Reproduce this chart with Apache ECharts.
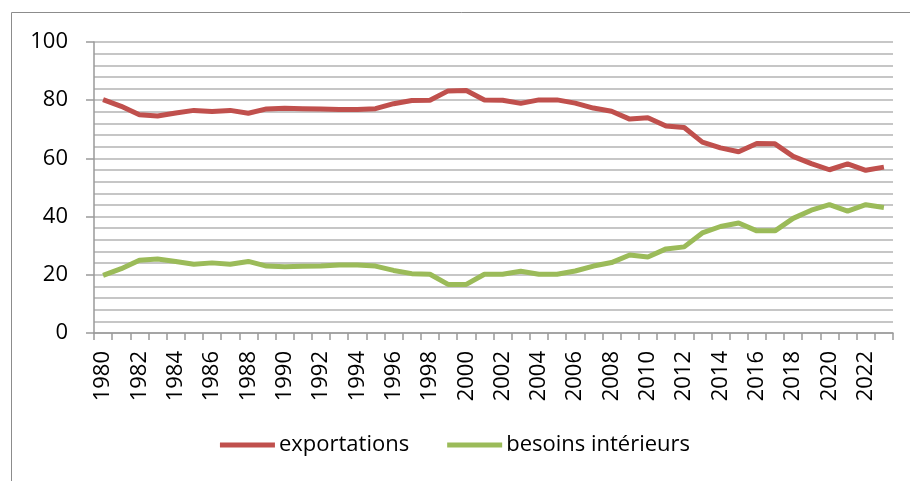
<!DOCTYPE html>
<html>
<head>
<meta charset="utf-8">
<style>
  html, body { margin: 0; padding: 0; background: #fff; }
  #main { width: 910px; height: 481px; }
</style>
</head>
<body>
<div id="main"></div>
<script src="https://cdn.jsdelivr.net/npm/echarts@6/dist/echarts.min.js"></script>
<script>
  var chartDom = document.getElementById('main');
  var myChart = echarts.init(chartDom);
  var option;

  const years = [];
  for (let y = 1980; y <= 2023; y++) years.push(String(y));

  const exportations = [
    80.2, 77.9, 75.0, 74.6, 75.6, 76.5, 76.1, 76.5, 75.5, 77.0,
    77.2, 77.1, 77.0, 76.8, 76.8, 77.1, 78.8, 79.9, 80.0, 83.2,
    83.3, 80.1, 80.0, 78.9, 80.1, 80.1, 79.0, 77.3, 76.2, 73.5,
    74.0, 71.1, 70.6, 65.6, 63.6, 62.3, 65.1, 65.0, 60.7, 58.2,
    56.1, 58.1, 55.9, 57.0
  ];
  const besoins = [
    19.8, 22.1, 25.0, 25.4, 24.6, 23.6, 24.1, 23.6, 24.6, 23.0,
    22.8, 22.9, 23.0, 23.4, 23.4, 23.0, 21.5, 20.4, 20.2, 16.7,
    16.7, 20.2, 20.2, 21.2, 20.2, 20.2, 21.3, 23.0, 24.2, 26.8,
    26.1, 28.9, 29.6, 34.4, 36.6, 37.8, 35.1, 35.1, 39.4, 42.2,
    44.1, 41.9, 44.1, 43.1
  ];

  const font = 'Open Sans';
  const gridColor = '#b4b4b4';

  option = {
    animation: false,
    textStyle: { fontFamily: font },
    graphic: [
      {
        type: 'rect',
        shape: { x: 11.5, y: 12.5, width: 1000, height: 1000 },
        style: { fill: 'none', stroke: '#8c8c8c', lineWidth: 1 },
        silent: true
      }
    ],
    grid: { left: 94, top: 42, right: 17, bottom: 148 },
    legend: {
      bottom: 20,
      left: 'center',
      icon: 'rect',
      itemWidth: 55,
      itemHeight: 5,
      itemGap: 38,
      textStyle: { fontFamily: font, fontSize: 22, color: '#000', padding: [0, 0, 0, -1] },
      data: ['exportations', 'besoins intérieurs']
    },
    xAxis: {
      type: 'category',
      data: years,
      boundaryGap: true,
      axisLine: { lineStyle: { color: '#9a9a9a', width: 1.5 } },
      axisTick: { show: true, interval: 0, length: 7, lineStyle: { color: '#9a9a9a', width: 1.5 } },
      axisLabel: {
        interval: 1,
        rotate: 90,
        margin: 18,
        fontSize: 22,
        color: '#000',
        fontFamily: font
      },
      splitLine: { show: false }
    },
    yAxis: {
      type: 'value',
      min: 0,
      max: 100,
      interval: 20,
      axisLine: { show: true, lineStyle: { color: '#9a9a9a', width: 1.5 } },
      axisTick: { show: true, length: 8, lineStyle: { color: '#9a9a9a', width: 1.5 } },
      axisLabel: { fontSize: 22, color: '#000', margin: 26, fontFamily: font },
      splitLine: { show: true, lineStyle: { color: gridColor, width: 1.5 } },
      minorTick: { show: false, splitNumber: 5 },
      minorSplitLine: { show: true, lineStyle: { color: gridColor, width: 1.5 } }
    },
    series: [
      {
        name: 'exportations',
        type: 'line',
        data: exportations,
        symbol: 'none',
        lineStyle: { color: '#c0504d', width: 5 },
        itemStyle: { color: '#c0504d' }
      },
      {
        name: 'besoins intérieurs',
        type: 'line',
        data: besoins,
        symbol: 'none',
        lineStyle: { color: '#9bbb59', width: 5 },
        itemStyle: { color: '#9bbb59' }
      }
    ]
  };

  option && myChart.setOption(option);

  window.onresize = function () {
    myChart.resize();
  };
</script>
</body>
</html>
